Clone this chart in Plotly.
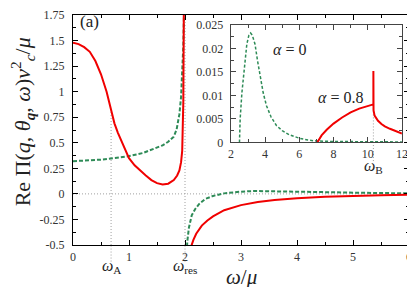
import plotly.graph_objects as go

# ---------------- data ----------------
# main panel, alpha = 0.8 (red, solid), two branches split at omega_res
red1_x = [0, 0.1, 0.2, 0.3, 0.4, 0.5, 0.6, 0.68, 0.681, 0.74, 0.8, 0.9, 1.0, 1.1, 1.2,
          1.3, 1.4, 1.5, 1.6, 1.7, 1.8, 1.86, 1.9, 1.93, 1.95, 1.96, 1.97, 1.98]
red1_y = [1.48, 1.465, 1.435, 1.39, 1.30, 1.17, 1.00, 0.83, 0.80, 0.69, 0.60, 0.47, 0.35,
          0.28, 0.225, 0.18, 0.135, 0.105, 0.092, 0.10, 0.135, 0.18, 0.23, 0.31, 0.42, 0.57, 0.9, 1.9]
red2_x = [2.07, 2.1, 2.15, 2.2, 2.3, 2.4, 2.5, 2.7, 3.0, 3.3, 3.6, 4.0, 4.5, 5.0, 5.5, 6.0]
red2_y = [-0.75, -0.53, -0.45, -0.39, -0.31, -0.26, -0.22, -0.16, -0.11, -0.08, -0.06,
          -0.042, -0.028, -0.019, -0.013, -0.009]
# main panel, alpha = 0 (green, dashed)
grn1_x = [0, 0.25, 0.5, 0.75, 1.0, 1.25, 1.5, 1.6, 1.7, 1.8, 1.85, 1.9, 1.93, 1.95, 1.97, 1.985]
grn1_y = [0.32, 0.325, 0.335, 0.35, 0.37, 0.40, 0.45, 0.475, 0.51, 0.56, 0.63, 0.78, 0.95,
          1.15, 1.45, 1.85]
grn2_x = [2.02, 2.04, 2.07, 2.12, 2.18, 2.25, 2.36, 2.5, 2.7, 3.0, 3.25, 3.5, 4.0, 4.5, 5.0, 5.5, 6.0]
grn2_y = [-0.75, -0.47, -0.33, -0.21, -0.15, -0.10, -0.05, -0.02, 0.005, 0.022, 0.028,
          0.027, 0.022, 0.017, 0.012, 0.008, 0.005]

# inset (imaginary part)
ins_grn_x = [2.5, 2.54, 2.64, 2.73, 2.83, 2.93, 3.05, 3.15, 3.25, 3.41, 3.55, 3.70, 3.89,
             4.08, 4.35, 4.66, 5.0, 5.43, 6.0, 6.5, 7.0, 8.0, 9.0, 10.0, 11.0, 12.0]
ins_grn_y = [0.0, 0.005, 0.0105, 0.014, 0.018, 0.0209, 0.0228, 0.02326, 0.0228, 0.0209,
             0.0175, 0.014, 0.0105, 0.0078, 0.0054, 0.0036, 0.0025, 0.0016, 0.0009, 0.0005,
             0.0003, 0.0002, 0.00015, 0.0001, 0.0001, 0.0001]
ins_red_x = [7.05, 7.3, 7.6, 8.0, 8.5, 9.0, 9.5, 10.0, 10.33, 10.33, 10.34, 10.4, 10.6,
             10.8, 11.0, 11.3, 11.6, 12.0]
ins_red_y = [0.0, 0.0015, 0.0027, 0.004, 0.0053, 0.0064, 0.0072, 0.0078, 0.0081, 0.0152,
             0.0068, 0.0057, 0.0046, 0.0039, 0.0034, 0.0029, 0.0024, 0.0019]

omega_A = 0.68
omega_A_val = 0.80
omega_res = 2.0
omega_B = 10.33
omega_B_val = 0.0081

main_xticks = [0, 1, 2, 3, 4, 5, 6]
main_yticks = [-0.5, -0.25, 0, 0.25, 0.5, 0.75, 1, 1.25, 1.5, 1.75]
main_ytext = ["-0.5", "-0.25", "0", "0.25", "0.5", "0.75", "1", "1.25", "1.5", "1.75"]
ins_xticks = [2, 4, 6, 8, 10, 12]
ins_yticks = [0, 0.005, 0.01, 0.015, 0.02, 0.025]
ins_ytext = ["0", "0.005", "0.01", "0.015", "0.02", "0.025"]

# ---------------- styling ----------------
RED = "#f00000"
GRN = "#2e8b57"
SERIF = "Liberation Serif"
TICKC = "#333333"
GRAYL = "#a0a0a0"

fig = go.Figure()
for xs, ys in [(grn1_x, grn1_y), (grn2_x, grn2_y)]:
    fig.add_trace(go.Scatter(x=xs, y=ys, mode="lines", line=dict(color=GRN, width=2, dash="4px,2px"),
                             xaxis="x", yaxis="y", showlegend=False, hoverinfo="skip"))
for xs, ys in [(red1_x, red1_y), (red2_x, red2_y)]:
    fig.add_trace(go.Scatter(x=xs, y=ys, mode="lines", line=dict(color=RED, width=2),
                             xaxis="x", yaxis="y", showlegend=False, hoverinfo="skip"))
fig.add_trace(go.Scatter(x=ins_grn_x, y=ins_grn_y, mode="lines",
                         line=dict(color=GRN, width=1.5, dash="3px,2px"),
                         xaxis="x2", yaxis="y2", showlegend=False, hoverinfo="skip"))
fig.add_trace(go.Scatter(x=ins_red_x, y=ins_red_y, mode="lines", line=dict(color=RED, width=2),
                         xaxis="x2", yaxis="y2", showlegend=False, hoverinfo="skip"))

main_font = dict(family=SERIF, size=12, color=TICKC)
ins_font = dict(family=SERIF, size=12, color=TICKC)
ax_common = dict(showline=True, mirror="ticks", ticks="inside", showgrid=False, zeroline=False)

# the page body adds an 8 px offset, so the figure is sized to fit the window
fig.update_layout(
    width=407, height=279,
    margin=dict(l=65, r=3, t=0, b=42),
    paper_bgcolor="white", plot_bgcolor="white",
    font=dict(family=SERIF),
    xaxis=dict(domain=[0, 1], range=[0, 6], tickvals=main_xticks, ticklen=5, linecolor="black",
               linewidth=1.4, tickcolor="black", tickwidth=1, tickfont=main_font,
               minor=dict(dtick=0.5, ticklen=3, ticks="inside", tickcolor="black"),
               ticklabelstandoff=0, **ax_common),
    yaxis=dict(domain=[0, 1], range=[-0.5, 1.75], tickvals=main_yticks, ticktext=main_ytext,
               ticklen=5, linecolor="black", linewidth=1.4, tickcolor="black", tickwidth=1,
               tickfont=main_font,
               minor=dict(dtick=0.125, tick0=0, ticklen=3, ticks="inside", tickcolor="black"),
               ticklabelstandoff=5, **ax_common),
    xaxis2=dict(domain=[0.47, 0.979], range=[2, 12], anchor="y2", tickvals=ins_xticks, ticklen=5,
                linecolor="#444", linewidth=1.4, tickcolor="#444", tickfont=ins_font,
                minor=dict(dtick=1, ticklen=3, ticks="inside", tickcolor="#444"),
                ticklabelstandoff=0, **ax_common),
    yaxis2=dict(domain=[0.446, 0.957], range=[0, 0.025], anchor="x2", tickvals=ins_yticks,
                ticktext=ins_ytext, ticklen=5, linecolor="#444", linewidth=1.4, tickcolor="#444",
                tickfont=ins_font,
                minor=dict(dtick=0.0025, ticklen=3, ticks="inside", tickcolor="#444"),
                ticklabelstandoff=4, **ax_common),
)

dot = dict(color=GRAYL, width=1, dash="1px,2px")
shapes = [
    dict(type="line", xref="x", yref="y", x0=0, x1=6, y0=0, y1=0, line=dot, layer="below"),
    dict(type="line", xref="x", yref="y", x0=omega_A, x1=omega_A, y0=-0.5, y1=omega_A_val, line=dot, layer="below"),
    dict(type="line", xref="x", yref="paper", x0=omega_A, x1=omega_A, y0=-0.072, y1=0, line=dot, layer="below"),
    dict(type="line", xref="x", yref="y", x0=omega_res, x1=omega_res, y0=-0.5, y1=1.75, line=dot, layer="below"),
    dict(type="line", xref="x", yref="paper", x0=omega_res, x1=omega_res, y0=-0.072, y1=0, line=dot, layer="below"),
    dict(type="line", xref="x2", yref="y2", x0=omega_B, x1=omega_B, y0=0, y1=omega_B_val, line=dot, layer="below"),
    dict(type="line", xref="x2", yref="paper", x0=omega_B, x1=omega_B, y0=0.365, y1=0.446, line=dot, layer="below"),
]
fig.update_layout(shapes=shapes)

ann_font = dict(family=SERIF, size=16, color="#222")
anns = [
    dict(text="(a)", x=0.05, xref="paper", y=0.97, yref="paper", showarrow=False,
         xanchor="center", yanchor="middle", font=dict(family=SERIF, size=17, color="#222")),
    dict(text="<i>α</i> = 0", x=5.45, xref="x2", y=0.0198, yref="y2", showarrow=False,
         xanchor="center", yanchor="middle", font=ann_font),
    dict(text="<i>α</i> = 0.8", x=8.42, xref="x2", y=0.0096, yref="y2", showarrow=False,
         xanchor="center", yanchor="middle", font=ann_font),
    dict(text="<i>ω</i><sub>B</sub>", x=omega_B, xref="x2", y=0.34, yref="paper", showarrow=False,
         xanchor="center", yanchor="middle", font=ann_font),
    dict(text="<i>ω</i><sub>A</sub>", x=omega_A, xref="x", y=-0.095, yref="paper", showarrow=False,
         xanchor="center", yanchor="middle", font=ann_font),
    dict(text="<i>ω</i><sub>res</sub>", x=omega_res, xref="x", y=-0.095, yref="paper", showarrow=False,
         xanchor="center", yanchor="middle", font=ann_font),
    dict(text="<i>ω</i>/<i>μ</i>", x=3.0, xref="x", y=-0.14, yref="paper", showarrow=False,
         xanchor="center", yanchor="middle", font=dict(family=SERIF, size=21, color="#222")),
    dict(text="Re Π(<i>q</i>, <i>θ</i><sub><b><i>q</i></b></sub>, <i>ω</i>)<i>v</i><sup>2</sup><sub><i>c</i></sub>/<i>μ</i>",
         x=-0.15, xref="paper", y=0.536, yref="paper", showarrow=False, textangle=-90,
         xanchor="center", yanchor="middle", font=dict(family=SERIF, size=22, color="#222")),
]
fig.update_layout(annotations=anns)

fig.write_html("out.html")
